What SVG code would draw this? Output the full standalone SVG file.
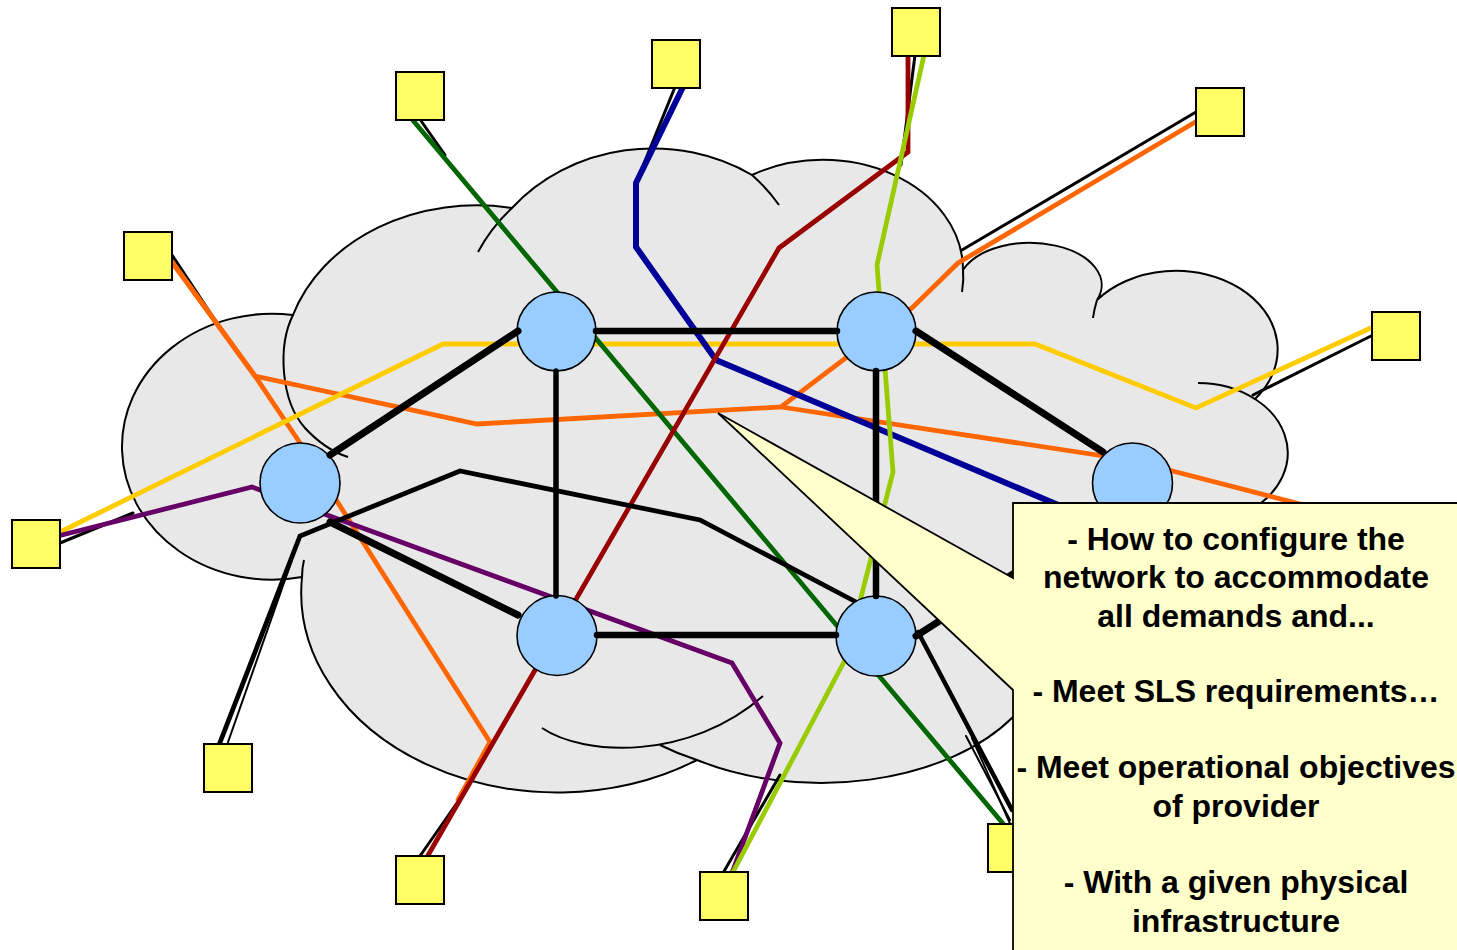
<svg xmlns="http://www.w3.org/2000/svg" width="1457" height="950" viewBox="0 0 1457 950">
<style>
.cloud{fill:#e8e8e8;stroke:#000;stroke-width:2}
.arc{fill:none;stroke:#000;stroke-width:2}
.sq{fill:#ffff66;stroke:#000;stroke-width:2}
.nd{fill:#99ccff;stroke:#000;stroke-width:1.6}
.dm{fill:none;stroke-width:4.8;stroke-linecap:round;stroke-linejoin:miter}
.acc{fill:none;stroke:#000;stroke-width:3;stroke-linecap:round}
.trunk{fill:none;stroke:#000;stroke-width:6.5;stroke-linecap:round;stroke-linejoin:miter}
.txt{font-family:"Liberation Sans",Arial,sans-serif;font-weight:bold;font-size:32px;text-anchor:middle;fill:#000}
</style>
<rect width="1457" height="950" fill="#fff"/>
<g id="cloud">
<path class="cloud" d="M302,577 A150,133 0 1 1 293,315 A193,158 0 0 1 512,208 A185,170 0 0 1 752,175 A140,110 0 0 1 963,270 A68,40 0 0 1 1097,300 A93,72 0 1 1 1255,399 A90,70 0 0 1 1198,523 L1100,600 L1030,700 L1013,717 A225,138 0 0 1 697,760 A256,200 0 0 1 302,577 Z"/>
<path class="arc" d="M293,315 C278,345 280,400 305,428 C318,442 332,452 348,457"/>
<path class="arc" d="M478,252 A185,170 0 0 1 512,208"/>
<path class="arc" d="M752,175 A185,170 0 0 1 779,205"/>
<path class="arc" d="M963,268 Q964,280 962,292"/>
<path class="arc" d="M1097,300 Q1094,310 1093,318"/>
<path class="arc" d="M1198,383 A90,70 0 0 1 1255,399"/>
<path class="arc" d="M304,560 Q302,568 302,577"/>
<path class="arc" d="M697,760 A225,138 0 0 1 660,745"/>
<path class="arc" d="M542,728 C585,757 690,760 763,696"/>
</g>
<g id="connectors">
<path class="acc" d="M419,118 L445,155"/>
<path class="acc" d="M675,87 L636,183"/>
<path class="acc" d="M915,55 L901,165"/>
<path class="acc" d="M1196,112 L962,250"/>
<path class="acc" d="M172,255 L225,335"/>
<path class="acc" d="M1373,335 L1253,395"/>
<path class="acc" d="M60,543 L133,513"/>
<path class="acc" d="M227,745 L292,560" style="stroke-width:2"/>
<path class="acc" d="M420,856 L457,803"/>
<path class="acc" d="M723,873 L780,775"/>
<path class="acc" d="M966,736 L1010,820" style="stroke-width:2"/>
<path class="acc" d="M972,738 L1012,828" style="stroke-width:2"/>
<path class="dm" stroke="#ff6600" d="M172,262 L255,376 L300,443 L490,742 L458,800"/>
<path class="dm" stroke="#ff6600" d="M1197,121 L958,263 L912,308 L781,407 L477,424 L255,376 L172,262"/>
<path class="dm" stroke="#ff6600" d="M781,407 L1130,460 L1300,504"/>
<path class="dm" stroke="#ffcc00" d="M1373,327 L1196,408 L1035,344 L443,344 L58,533"/>
<path class="dm" stroke="#660066" d="M58,536 L252,487 L327,515 L732,663 L780,743 L732,873"/>
<path class="dm" stroke="#006600" d="M411,118 L1005,826"/>
<path class="dm" stroke="#000099" style="stroke-width:6" d="M683,87 L636,183 L636,247 L716,360 L1070,510"/>
<path class="dm" stroke="#990000" d="M908,55 L908,152 L779,248 L427,857"/>
<path class="dm" stroke="#99cc00" d="M924,55 L877,265 L893,472 L845,660 L733,872"/>
<path class="dm" stroke="#000" d="M219,745 L300,536 L460,471 L700,520 L858,603"/>
</g>
<g id="squares">
<rect id="s1" class="sq" x="396" y="72" width="48" height="48"/>
<rect id="s2" class="sq" x="652" y="40" width="48" height="48"/>
<rect id="s3" class="sq" x="892" y="8" width="48" height="48"/>
<rect id="s4" class="sq" x="1196" y="88" width="48" height="48"/>
<rect id="s5" class="sq" x="124" y="232" width="48" height="48"/>
<rect id="s6" class="sq" x="1372" y="312" width="48" height="48"/>
<rect id="s7" class="sq" x="12" y="520" width="48" height="48"/>
<rect id="s8" class="sq" x="204" y="744" width="48" height="48"/>
<rect id="s9" class="sq" x="396" y="856" width="48" height="48"/>
<rect id="s10" class="sq" x="700" y="872" width="48" height="48"/>
<rect id="s11" class="sq" x="988" y="824" width="48" height="48"/>
</g>
<g id="nodes">
<circle id="n1" class="nd" cx="556.5" cy="331.5" r="39.5"/>
<circle id="n2" class="nd" cx="876.5" cy="331.5" r="39.5"/>
<circle id="n3" class="nd" cx="1132.5" cy="483" r="40"/>
<circle id="n4" class="nd" cx="300" cy="483" r="40"/>
<circle id="n5" class="nd" cx="557" cy="635.5" r="40"/>
<circle id="n6" class="nd" cx="876" cy="636" r="40"/>
</g>
<g id="links">
<path class="trunk" d="M596,331 L837,331"/>
<path class="trunk" d="M556,371 L556,596" style="stroke-width:5.5"/>
<path class="trunk" d="M876,371 L876,596"/>
<path class="trunk" d="M597,635 L836,635"/>
<path class="trunk" d="M518,331 L330,455" style="stroke-width:7"/>
<path class="trunk" d="M916,331 L1103,452" style="stroke-width:7"/>
<path class="trunk" d="M330,522 L518,615" style="stroke-width:7"/>
<path class="trunk" d="M916,636 L1100,518" style="stroke-width:7"/>
<path class="trunk" d="M918,632 L1012,810" style="stroke-width:4.5"/>
</g>
<g id="callout">
<path d="M1013,503 H1470 V960 H1013 V690 L718,413 L1013,578 Z" fill="#ffffcc" stroke="#000" stroke-width="1.8"/>
<text class="txt" x="1236" y="550">- How to configure the</text>
<text class="txt" x="1236" y="588">network to accommodate</text>
<text class="txt" x="1236" y="627">all demands and...</text>
<text class="txt" x="1236" y="702">- Meet SLS requirements…</text>
<text class="txt" x="1236" y="778">- Meet operational objectives</text>
<text class="txt" x="1236" y="817">of provider</text>
<text class="txt" x="1236" y="893">- With a given physical</text>
<text class="txt" x="1236" y="932">infrastructure</text>
</g>
</svg>
